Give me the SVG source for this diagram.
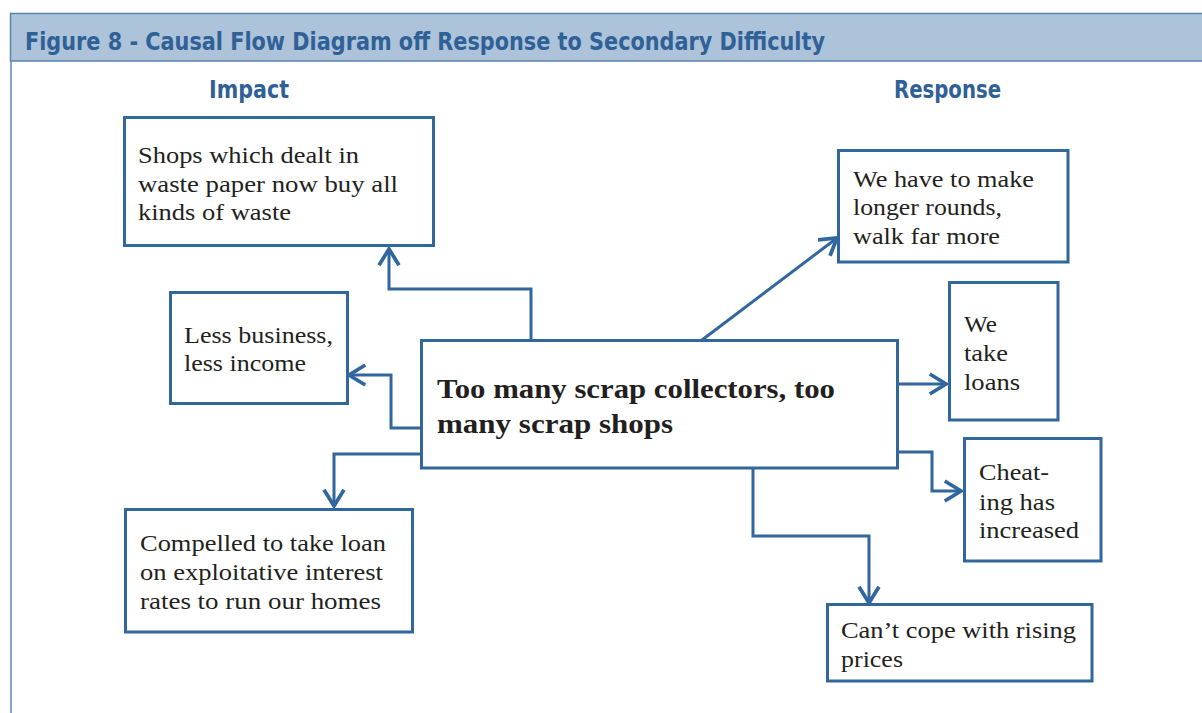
<svg xmlns="http://www.w3.org/2000/svg" width="1202" height="713" viewBox="0 0 1202 713">
<defs>
<style>
.box{fill:#fff;stroke:#32679e;stroke-width:3}
.t{font-family:"Liberation Serif","Times New Roman",serif;font-size:23px;fill:#231f20}
.tb{font-family:"Liberation Serif","Times New Roman",serif;font-size:27px;font-weight:bold;fill:#231f20}
.h{font-family:"DejaVu Sans Condensed","Liberation Sans",sans-serif;font-weight:bold;fill:#2f6197}
.c{fill:none;stroke:#32679e;stroke-width:3}
</style>
<marker id="ah" markerUnits="userSpaceOnUse" markerWidth="30" markerHeight="30" refX="0" refY="0" viewBox="-16 -12 20 24" orient="auto" overflow="visible">
<path d="M-13,-8 L0,0 L-13,8" fill="none" stroke="#32679e" stroke-width="3"/>
</marker>
</defs>
<rect width="1202" height="713" fill="#fff"/>
<g id="frame">
<rect x="10.5" y="13.5" width="1195" height="47.5" fill="#adc3d9" stroke="#5a83b0" stroke-width="1.5"/>
<line x1="11" y1="61" x2="11" y2="713" stroke="#5a83b0" stroke-width="1.5"/>
<text class="h" x="25" y="50" font-size="25" textLength="800" lengthAdjust="spacingAndGlyphs">Figure 8 - Causal Flow Diagram off Response to Secondary Difficulty</text>
<text class="h" x="209" y="98" font-size="24" textLength="80" lengthAdjust="spacingAndGlyphs">Impact</text>
<text class="h" x="894" y="98" font-size="24" textLength="107" lengthAdjust="spacingAndGlyphs">Response</text>
</g>
<g id="connectors">
<path class="c" d="M531,340 V289 H389 V249" marker-end="url(#ah)"/>
<path class="c" d="M421,428 H391 V375 H349" marker-end="url(#ah)"/>
<path class="c" d="M421,454 H334 V506" marker-end="url(#ah)"/>
<path class="c" d="M702,340 L837,238" marker-end="url(#ah)"/>
<path class="c" d="M898,384 H946" marker-end="url(#ah)"/>
<path class="c" d="M898,452 H932 V491 H961" marker-end="url(#ah)"/>
<path class="c" d="M753,468 V536 H869 V603" marker-end="url(#ah)"/>
</g>
<g id="n-shops">
<rect class="box" x="124.5" y="117.5" width="309" height="128"/>
<text class="t" x="138" y="163" textLength="221" lengthAdjust="spacingAndGlyphs">Shops which dealt in</text>
<text class="t" x="138" y="192" textLength="260" lengthAdjust="spacingAndGlyphs">waste paper now buy all</text>
<text class="t" x="138" y="220" textLength="153" lengthAdjust="spacingAndGlyphs">kinds of waste</text>
</g>
<g id="n-less">
<rect class="box" x="170.5" y="292.5" width="177" height="111"/>
<text class="t" x="184" y="343" textLength="149" lengthAdjust="spacingAndGlyphs">Less business,</text>
<text class="t" x="184" y="371" textLength="122" lengthAdjust="spacingAndGlyphs">less income</text>
</g>
<g id="n-center">
<rect class="box" x="421.5" y="340.5" width="476" height="127.5"/>
<text class="tb" x="437" y="398" textLength="398" lengthAdjust="spacingAndGlyphs">Too many scrap collectors, too</text>
<text class="tb" x="437" y="433" textLength="236" lengthAdjust="spacingAndGlyphs">many scrap shops</text>
</g>
<g id="n-compelled">
<rect class="box" x="125.5" y="509.5" width="287" height="122.5"/>
<text class="t" x="140" y="551" textLength="246" lengthAdjust="spacingAndGlyphs">Compelled to take loan</text>
<text class="t" x="140" y="580" textLength="243" lengthAdjust="spacingAndGlyphs">on exploitative interest</text>
<text class="t" x="140" y="609" textLength="241" lengthAdjust="spacingAndGlyphs">rates to run our homes</text>
</g>
<g id="n-rounds">
<rect class="box" x="838.5" y="150.5" width="229.5" height="111.5"/>
<text class="t" x="853" y="187" textLength="181" lengthAdjust="spacingAndGlyphs">We have to make</text>
<text class="t" x="853" y="215" textLength="149" lengthAdjust="spacingAndGlyphs">longer rounds,</text>
<text class="t" x="853" y="244" textLength="147" lengthAdjust="spacingAndGlyphs">walk far more</text>
</g>
<g id="n-loans">
<rect class="box" x="949.5" y="282.5" width="108.5" height="137.5"/>
<text class="t" x="964" y="332" textLength="33" lengthAdjust="spacingAndGlyphs">We</text>
<text class="t" x="964" y="361" textLength="44" lengthAdjust="spacingAndGlyphs">take</text>
<text class="t" x="964" y="390" textLength="56" lengthAdjust="spacingAndGlyphs">loans</text>
</g>
<g id="n-cheating">
<rect class="box" x="964.5" y="438.5" width="136.5" height="122.5"/>
<text class="t" x="979" y="480" textLength="70" lengthAdjust="spacingAndGlyphs">Cheat-</text>
<text class="t" x="979" y="510" textLength="76" lengthAdjust="spacingAndGlyphs">ing has</text>
<text class="t" x="979" y="538" textLength="100" lengthAdjust="spacingAndGlyphs">increased</text>
</g>
<g id="n-prices">
<rect class="box" x="827.5" y="604.5" width="264.5" height="76.5"/>
<text class="t" x="841" y="638" textLength="235" lengthAdjust="spacingAndGlyphs">Can’t cope with rising</text>
<text class="t" x="841" y="667" textLength="62" lengthAdjust="spacingAndGlyphs">prices</text>
</g>
</svg>
